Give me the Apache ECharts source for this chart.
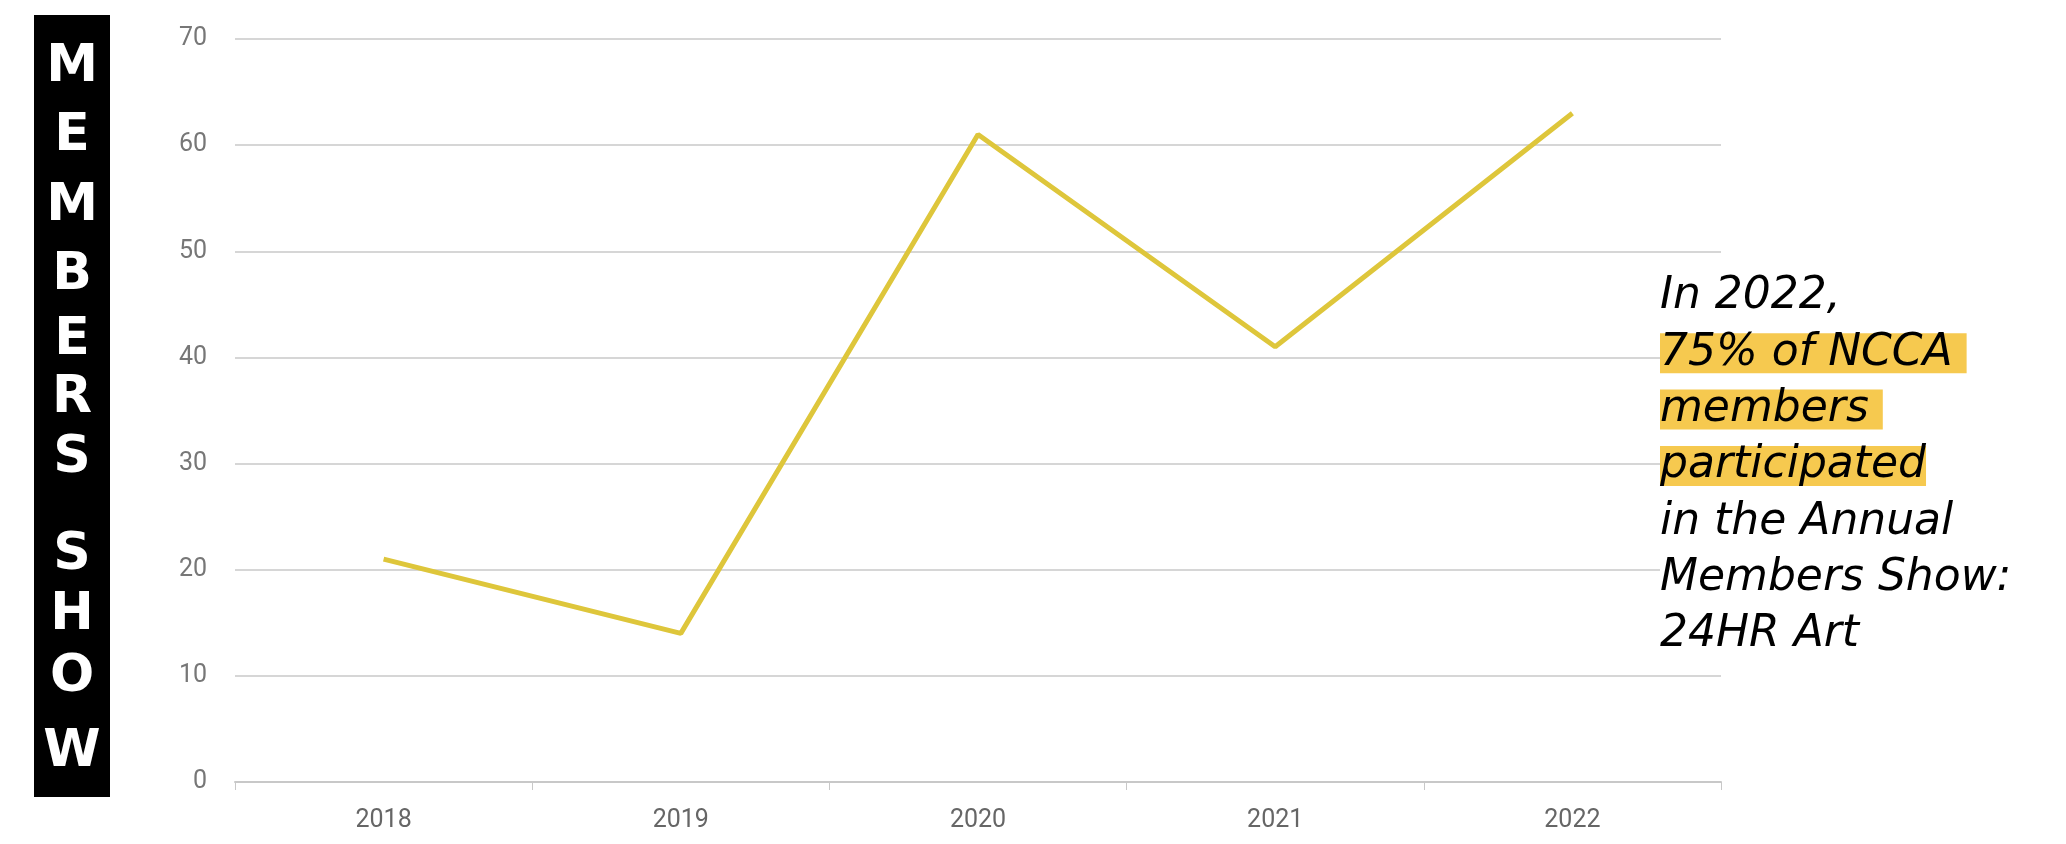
<!DOCTYPE html>
<html>
<head>
<meta charset="utf-8">
<script src="https://cdn.jsdelivr.net/npm/echarts@6/dist/echarts.min.js"></script>
<style>
html,body{margin:0;padding:0;background:#fff;}
#chart{width:2066px;height:844px;}
</style>
</head>
<body>
<div id="chart"></div>
<script>
const categories = ['2018', '2019', '2020', '2021', '2022'];
const participants = [21, 14, 61, 41, 63];
const yMin = 0, yMax = 70, yStep = 10;
const sideTitle = ['M', 'E', 'M', 'B', 'E', 'R', 'S', 'S', 'H', 'O', 'W'];
const sideTitleY = [67, 136, 206, 275, 340, 398, 458, 555, 615, 677, 752];
const noteLines = ['In 2022,', '75% of NCCA ', 'members ', 'participated', 'in the Annual', 'Members Show:', '24HR Art'];
const noteHighlighted = [false, true, true, true, false, false, false];

const chart = echarts.init(document.getElementById('chart'));

const graphics = [];
graphics.push({
  type: 'rect', left: 34, top: 15, silent: true,
  shape: { width: 76, height: 782 },
  style: { fill: '#000' }
});
sideTitle.forEach(function (ch, i) {
  graphics.push({
    type: 'text', x: 72, y: sideTitleY[i], silent: true,
    style: {
      text: ch, fill: '#fff', align: 'center', verticalAlign: 'middle',
      font: 'bold 52px "DejaVu Sans"'
    }
  });
});
noteLines.forEach(function (t, i) {
  graphics.push({
    type: 'text', x: 1660, y: 297 + i * 56.3, silent: true, z: 10,
    style: {
      text: t, fill: '#000', align: 'left', verticalAlign: 'middle',
      font: 'italic 44px "DejaVu Sans"',
      lineHeight: 40,
      backgroundColor: noteHighlighted[i] ? '#F6C94F' : '#fff'
    }
  });
});

chart.setOption({
  animation: false,
  backgroundColor: '#fff',
  grid: { left: 235, right: 345, top: 39, bottom: 62, containLabel: false },
  xAxis: {
    type: 'category',
    data: categories,
    boundaryGap: true,
    axisLine: { lineStyle: { color: '#c8c8c8', width: 2 } },
    axisTick: { show: true, length: 8, lineStyle: { color: '#c8c8c8', width: 1 } },
    axisLabel: { color: '#666', fontSize: 25, fontFamily: 'Roboto', margin: 26 }
  },
  yAxis: {
    type: 'value',
    min: yMin, max: yMax, interval: yStep,
    axisLine: { show: false },
    axisTick: { show: false },
    axisLabel: { color: '#777', fontSize: 25, fontFamily: 'Roboto', margin: 28 },
    splitLine: { lineStyle: { color: '#d6d6d6', width: 2 } }
  },
  series: [{
    type: 'line',
    data: participants,
    symbol: 'none',
    lineStyle: { color: '#DEC63B', width: 5 },
    itemStyle: { color: '#DEC63B' }
  }],
  graphic: graphics
});
</script>
</body>
</html>
